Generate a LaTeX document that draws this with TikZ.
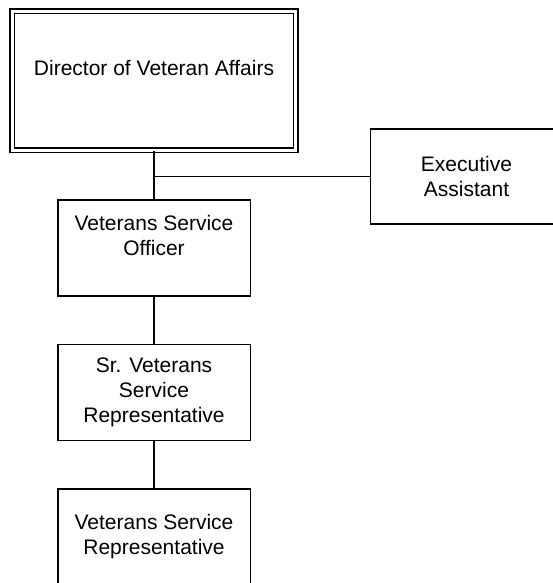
\documentclass[tikz,border=0pt]{standalone}
\usepackage{fontspec}
\setmainfont{Liberation Sans}
\usepackage{tikz}
\usetikzlibrary{positioning}
\newcommand\orgfont{\fontsize{21}{25}\selectfont}

\begin{document}
\begin{tikzpicture}[x=1pt,y=-1pt]%
        \useasboundingbox (0,0) rectangle (553,583); %%
        \clip (0,0) rectangle (553,583); %%
        \begin{scope}[shape=rectangle,inner sep=0pt,align=center,line width=1.5pt]
        \tikzstyle{every node}=[draw,font=\orgfont,minimum width=192.5,minimum height=96] %%
        \node[double,double distance=3pt,minimum width=283.6,minimum height=139] (dir) at (154,80.7)  {Director of Veteran Affairs\\~}; %%
        \node (vso) at (154,248)  {Veterans Service\\Officer\\~}; %%
        \node (svsr) at (154,392.3)  {Sr. Veterans\\Service\\Representative}; %%
        \node (vsr) at (154,537)  {Veterans Service\\Representative}; %%
        \node[minimum height=95] (ea) at (466.5,176.5)  {Executive\\Assistant}; %%
        \end{scope}
        \draw[line width=1.5pt] (dir)--(vso);  %%
        \draw[line width=1.5pt] (vso)--(svsr);  %%
        \draw[line width=1.5pt] (svsr)--(vsr);  %%
        \draw[line width=1.5pt] (dir.south |- ea)--(ea);  %%
\end{tikzpicture}
\end{document}
